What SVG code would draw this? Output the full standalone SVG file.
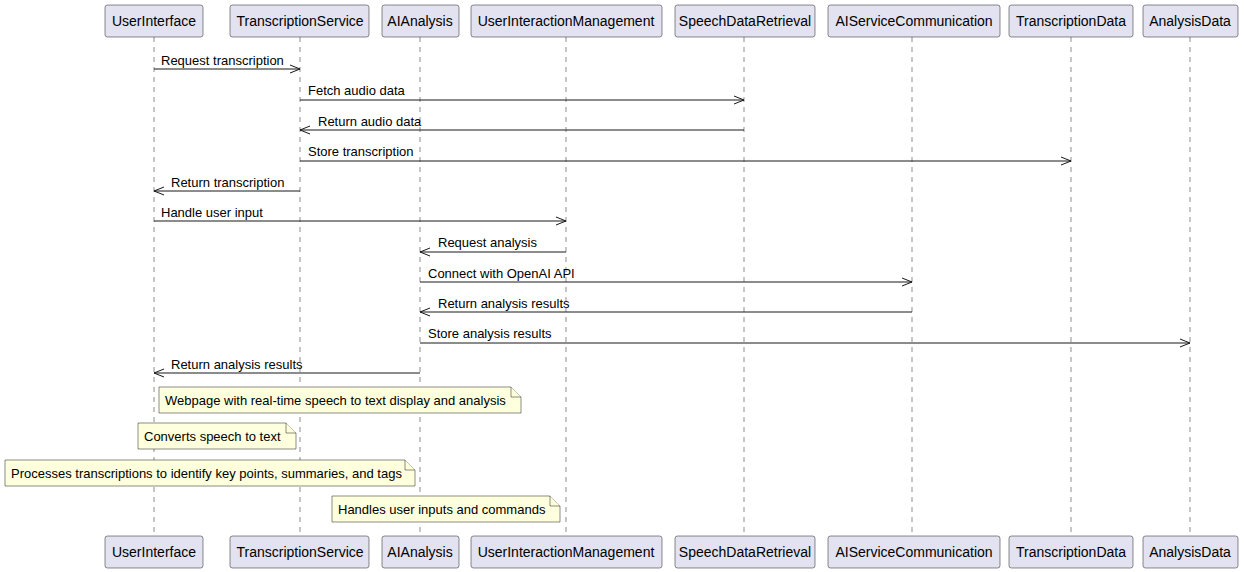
<svg xmlns="http://www.w3.org/2000/svg" width="1244" height="572" viewBox="0 0 1244 572">
<style>
.p rect{fill:#E2E2F0;stroke:#181818;stroke-width:0.5}
text{font-family:"Liberation Sans",Arial,sans-serif;font-size:13px;fill:#000}
.p text{text-anchor:middle;font-size:14px}
.life{stroke:#181818;stroke-width:0.5;stroke-dasharray:5,5}
.msg line{stroke:#181818;stroke-width:1}
.msg path{fill:none;stroke:#181818;stroke-width:1}
.note path{fill:#FEFFDD;stroke:#181818;stroke-width:0.5}
</style>
<rect width="1244" height="572" fill="#fff"/>
<g id="lifelines">
<line class="life" x1="154" y1="37" x2="154" y2="536"/>
<line class="life" x1="300" y1="37" x2="300" y2="536"/>
<line class="life" x1="420" y1="37" x2="420" y2="536"/>
<line class="life" x1="566" y1="37" x2="566" y2="536"/>
<line class="life" x1="744" y1="37" x2="744" y2="536"/>
<line class="life" x1="912" y1="37" x2="912" y2="536"/>
<line class="life" x1="1071" y1="37" x2="1071" y2="536"/>
<line class="life" x1="1190" y1="37" x2="1190" y2="536"/>
</g>
<g id="UserInterface" class="p">
<rect x="105" y="5" width="98" height="32" rx="2.5"/><text x="154" y="26">UserInterface</text>
<rect x="105" y="536" width="98" height="32" rx="2.5"/><text x="154" y="557">UserInterface</text>
</g>
<g id="TranscriptionService" class="p">
<rect x="230" y="5" width="139" height="32" rx="2.5"/><text x="300" y="26">TranscriptionService</text>
<rect x="230" y="536" width="139" height="32" rx="2.5"/><text x="300" y="557">TranscriptionService</text>
</g>
<g id="AIAnalysis" class="p">
<rect x="382" y="5" width="77" height="32" rx="2.5"/><text x="420" y="26">AIAnalysis</text>
<rect x="382" y="536" width="77" height="32" rx="2.5"/><text x="420" y="557">AIAnalysis</text>
</g>
<g id="UserInteractionManagement" class="p">
<rect x="471" y="5" width="191" height="32" rx="2.5"/><text x="566" y="26">UserInteractionManagement</text>
<rect x="471" y="536" width="191" height="32" rx="2.5"/><text x="566" y="557">UserInteractionManagement</text>
</g>
<g id="SpeechDataRetrieval" class="p">
<rect x="675" y="5" width="140" height="32" rx="2.5"/><text x="745" y="26">SpeechDataRetrieval</text>
<rect x="675" y="536" width="140" height="32" rx="2.5"/><text x="745" y="557">SpeechDataRetrieval</text>
</g>
<g id="AIServiceCommunication" class="p">
<rect x="828" y="5" width="172" height="32" rx="2.5"/><text x="914" y="26">AIServiceCommunication</text>
<rect x="828" y="536" width="172" height="32" rx="2.5"/><text x="914" y="557">AIServiceCommunication</text>
</g>
<g id="TranscriptionData" class="p">
<rect x="1009" y="5" width="124" height="32" rx="2.5"/><text x="1071" y="26">TranscriptionData</text>
<rect x="1009" y="536" width="124" height="32" rx="2.5"/><text x="1071" y="557">TranscriptionData</text>
</g>
<g id="AnalysisData" class="p">
<rect x="1143" y="5" width="95" height="32" rx="2.5"/><text x="1190" y="26">AnalysisData</text>
<rect x="1143" y="536" width="95" height="32" rx="2.5"/><text x="1190" y="557">AnalysisData</text>
</g>
<g id="connectors" class="msg">
<line x1="154" y1="69" x2="300" y2="69"/><path d="M290,65 L300,69 L290,73"/><text x="161" y="65">Request transcription</text>
<line x1="300" y1="100" x2="744" y2="100"/><path d="M734,96 L744,100 L734,104"/><text x="308" y="95">Fetch audio data</text>
<line x1="300" y1="130" x2="744" y2="130"/><path d="M310,126 L300,130 L310,134"/><text x="318" y="126">Return audio data</text>
<line x1="300" y1="161" x2="1071" y2="161"/><path d="M1061,157 L1071,161 L1061,165"/><text x="308" y="156">Store transcription</text>
<line x1="154" y1="191" x2="300" y2="191"/><path d="M164,187 L154,191 L164,195"/><text x="171" y="187">Return transcription</text>
<line x1="154" y1="221" x2="566" y2="221"/><path d="M556,217 L566,221 L556,225"/><text x="161" y="217">Handle user input</text>
<line x1="420" y1="252" x2="566" y2="252"/><path d="M430,248 L420,252 L430,256"/><text x="438" y="247">Request analysis</text>
<line x1="420" y1="282" x2="912" y2="282"/><path d="M902,278 L912,282 L902,286"/><text x="428" y="278">Connect with OpenAI API</text>
<line x1="420" y1="312" x2="912" y2="312"/><path d="M430,308 L420,312 L430,316"/><text x="438" y="308">Return analysis results</text>
<line x1="420" y1="343" x2="1190" y2="343"/><path d="M1180,339 L1190,343 L1180,347"/><text x="428" y="338">Store analysis results</text>
<line x1="154" y1="373" x2="420" y2="373"/><path d="M164,369 L154,373 L164,377"/><text x="171" y="369">Return analysis results</text>
</g>
<g id="note1" class="note">
<path d="M159,387 L511,387 L521,397 L521,413 L159,413 Z"/><path d="M511,387 L511,397 L521,397"/>
<text x="165" y="405">Webpage with real-time speech to text display and analysis</text>
</g>
<g id="note2" class="note">
<path d="M138,423 L286,423 L296,433 L296,449 L138,449 Z"/><path d="M286,423 L286,433 L296,433"/>
<text x="144" y="441">Converts speech to text</text>
</g>
<g id="note3" class="note">
<path d="M5,460 L405,460 L415,470 L415,486 L5,486 Z"/><path d="M405,460 L405,470 L415,470"/>
<text x="11" y="478">Processes transcriptions to identify key points, summaries, and tags</text>
</g>
<g id="note4" class="note">
<path d="M332,496 L550,496 L560,506 L560,522 L332,522 Z"/><path d="M550,496 L550,506 L560,506"/>
<text x="338" y="514">Handles user inputs and commands</text>
</g>
</svg>
